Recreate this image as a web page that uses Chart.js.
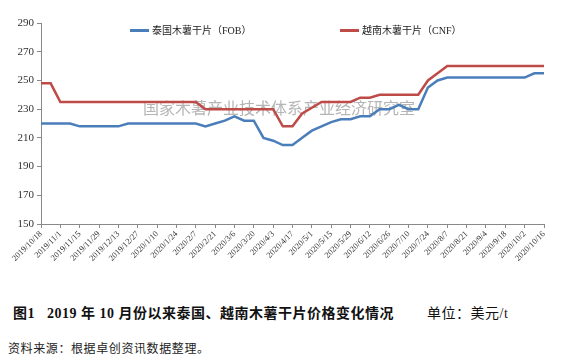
<!DOCTYPE html>
<html>
<head>
<meta charset="utf-8">
<script src="https://cdn.jsdelivr.net/npm/chart.js@4"></script>
<style>
  body { margin: 0; background: #fff; width: 576px; height: 362px; position: relative; overflow: hidden; }
  #wrap { position: absolute; left: 0; top: 0; width: 576px; height: 290px; }
  .legend { position: absolute; top: 24px; font: 10px "Liberation Serif", "Noto Sans CJK SC"; color: #222; white-space: nowrap; line-height: 14px; }
  .legend i { display: inline-block; width: 19px; height: 0; border-top: 3px solid; vertical-align: middle; margin-right: 3px; position: relative; top: -1px; }
  #caption { position: absolute; left: 13px; top: 302px; font: bold 14px "Liberation Serif", "Noto Sans CJK SC"; color: #111; white-space: nowrap; letter-spacing: 0.5px; }
  #unit { position: absolute; left: 427px; top: 302px; font: 14px "Liberation Serif", "Noto Sans CJK SC"; color: #111; white-space: nowrap; letter-spacing: 0.5px; }
  #source { position: absolute; left: 8px; top: 339px; font: 12px "Noto Sans CJK SC"; color: #222; white-space: nowrap; letter-spacing: 0.6px; }
</style>
</head>
<body>
<div id="wrap"><canvas id="priceChart"></canvas></div>
<div class="legend" style="left:130px"><i style="border-color:#4a7ebb"></i>泰国木薯干片（FOB）</div>
<div class="legend" style="left:340px"><i style="border-color:#be4b48"></i>越南木薯干片（CNF）</div>
<div id="caption">图1&nbsp;&nbsp; 2019 年 10 月份以来泰国、越南木薯干片价格变化情况</div>
<div id="unit">单位：美元/t</div>
<div id="source">资料来源：根据卓创资讯数据整理。</div>
<script>
// weekly dates
const dates = [
    '2019/10/18', '2019/10/25', '2019/11/1', '2019/11/8', '2019/11/15', '2019/11/22', '2019/11/29',
    '2019/12/6', '2019/12/13', '2019/12/20', '2019/12/27', '2020/1/3', '2020/1/10', '2020/1/17',
    '2020/1/24', '2020/1/31', '2020/2/7', '2020/2/14', '2020/2/21', '2020/2/28', '2020/3/6',
    '2020/3/13', '2020/3/20', '2020/3/27', '2020/4/3', '2020/4/10', '2020/4/17', '2020/4/24',
    '2020/5/1', '2020/5/8', '2020/5/15', '2020/5/22', '2020/5/29', '2020/6/5', '2020/6/12',
    '2020/6/19', '2020/6/26', '2020/7/3', '2020/7/10', '2020/7/17', '2020/7/24', '2020/7/31',
    '2020/8/7', '2020/8/14', '2020/8/21', '2020/8/28', '2020/9/4', '2020/9/11', '2020/9/18',
    '2020/9/25', '2020/10/2', '2020/10/9', '2020/10/16'
];

// 泰国木薯干片（FOB）
const thaiFob = [
    220, 220, 220, 220, 218, 218, 218, 218, 218, 220, 220, 220, 220, 220, 220, 220,
    220, 218, 220, 222, 225, 222, 222, 210, 208, 205, 205, 210, 215, 218, 221, 223,
    223, 225, 225, 230, 230, 233, 230, 230, 245, 250, 252, 252, 252, 252, 252, 252,
    252, 252, 252, 255, 255
];

// 越南木薯干片（CNF）
const vietCnf = [
    248, 248, 235, 235, 235, 235, 235, 235, 235, 235, 235, 235, 235, 235, 235, 235,
    235, 230, 230, 230, 230, 230, 230, 230, 230, 218, 218, 227, 231, 235, 235, 235,
    235, 238, 238, 240, 240, 240, 240, 240, 250, 255, 260, 260, 260, 260, 260, 260,
    260, 260, 260, 260, 260
];

const yTicks = [150, 170, 190, 210, 230, 250, 270, 290];
const watermark = '国家木薯产业技术体系产业经济研究室';

const axisGray = '#898989';

const watermarkPlugin = {
    id: 'watermark',
    beforeDatasetsDraw(chart) {
        const c = chart.ctx;
        c.save();
        c.font = '16px "Noto Sans CJK SC"';
        c.fillStyle = 'rgba(150,150,150,0.7)';
        c.textBaseline = 'middle';
        c.fillText(watermark, 143, 108);
        c.restore();
    }
};

document.addEventListener('DOMContentLoaded', function () {
    const ctx = document.getElementById('priceChart').getContext('2d');
    new Chart(ctx, {
        type: 'line',
        data: {
            labels: dates,
            datasets: [
                {
                    label: '泰国木薯干片（FOB）',
                    data: thaiFob,
                    borderColor: '#4a7ebb',
                    borderWidth: 2.5,
                    pointRadius: 0,
                    tension: 0
                },
                {
                    label: '越南木薯干片（CNF）',
                    data: vietCnf,
                    borderColor: '#be4b48',
                    borderWidth: 2.5,
                    pointRadius: 0,
                    tension: 0
                }
            ]
        },
        plugins: [watermarkPlugin],
        options: {
            responsive: true,
            maintainAspectRatio: false,
            animation: false,
            layout: { padding: { top: 23, right: 32, left: 0, bottom: 0 } },
            plugins: {
                legend: { display: false },
                tooltip: { enabled: false }
            },
            scales: {
                x: {
                    border: { color: axisGray, width: 1 },
                    grid: {
                        drawOnChartArea: false,
                        tickLength: 4,
                        color: c => (c.index % 2 === 0 ? axisGray : 'rgba(0,0,0,0)')
                    },
                    ticks: {
                        autoSkip: false,
                        maxRotation: 45,
                        minRotation: 45,
                        padding: 1,
                        color: '#333',
                        font: { family: 'Liberation Serif', size: 8.5 },
                        callback: (v, i) => (i % 2 === 0 ? dates[i] : '')
                    },
                    afterFit: s => { s.height = 66; }
                },
                y: {
                    min: 150,
                    max: 290,
                    border: { color: axisGray, width: 1 },
                    grid: { drawOnChartArea: false, tickLength: 4, color: axisGray },
                    afterBuildTicks: s => { s.ticks = yTicks.map(v => ({ value: v })); },
                    ticks: {
                        padding: 3,
                        color: '#333',
                        font: { family: 'Liberation Serif', size: 11 }
                    },
                    afterFit: s => { s.width = 41; }
                }
            }
        }
    });
});
</script>
</body>
</html>
